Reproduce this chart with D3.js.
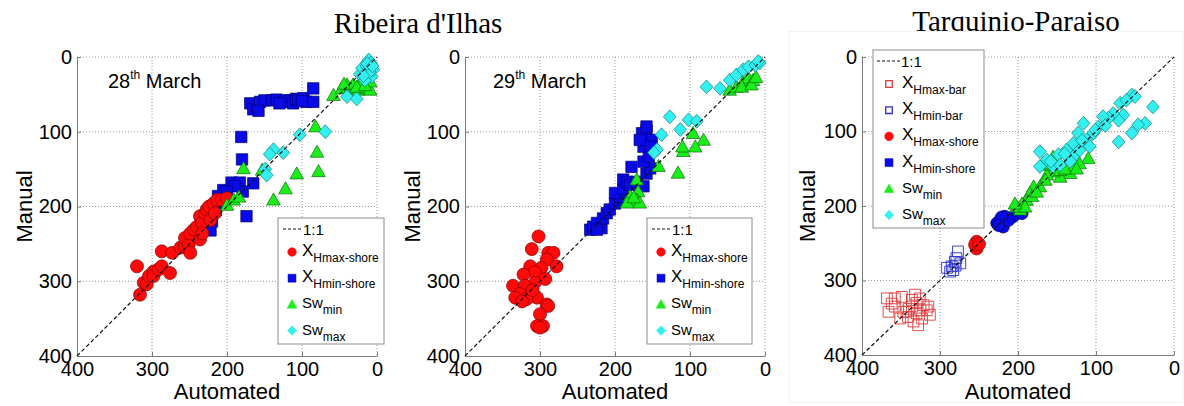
<!DOCTYPE html>
<html><head><meta charset="utf-8">
<script src="https://cdn.jsdelivr.net/npm/d3@7"></script>
<style>body{margin:0;background:#fff} svg{display:block}</style>
</head><body>
<svg id="c" width="1184" height="406"></svg>
<script>
// ---------- DATA ----------
const axisTicks = [0, 100, 200, 300, 400];
const oneToOne = [[400, 400], [0, 0]];
const siteTitles = ["Ribeira d'Ilhas", "Tarquinio-Paraiso"];
const dateLabels = [["28", "th", " March"], ["29", "th", " March"]];

// Panel 1 – 28th March
const p1XHminShore = [[169,62],[165,70],[160,66],[156,60],[150,58],[140,58],[134,57],[125,60],[120,58],[116,58],[112,62],[108,56],[105,57],[98,55],[94,60],[85,42],[85,60],[158,72],[130,62],[100,59],
  [205,178],[194,168],[183,168],[179,180],[165,169],[212,186],[174,213],[181,107],[180,137],[210,195],[215,205],[220,220],[222,232],[190,173],[200,180]];
const p1XHmaxShore = [[320,280],[316,318],[311,302],[307,304],[304,293],[298,287],[298,293],[291,284],[287,280],[287,260],[276,289],[273,262],[262,255],[256,253],[256,242],[251,251],[249,236],[249,262],[244,231],[240,227],[236,244],[236,213],[233,222],[233,236],[229,209],[227,204],[224,200],[222,218],[218,196],[216,209],[213,191],[207,191],[200,189]];
const p1SwMin = [[178,149],[153,151],[138,191],[122,176],[107,156],[80,127],[78,153],[82,93],[200,198],[191,191],[184,187],[58,51],[47,42],[36,42],[25,44],[14,42],[9,44],[40,37],[32,37],[23,35],[44,36],[18,31],[9,33],[27,40],[16,38]];
const p1SwMax = [[103,104],[125,128],[138,124],[143,130],[149,150],[147,158],[69,100],[40,53],[27,56],[23,23],[20,15],[14,12],[9,10],[7,26],[16,31],[12,6],[5,17],[10,20],[18,25],[11,4],[8,8],[13,9],[6,12]];

// Panel 2 – 29th March
const p2XHminShore = [[233,231],[229,227],[224,222],[218,229],[216,216],[224,231],[211,209],[207,204],[200,196],[193,191],[193,187],[200,182],[189,176],[189,164],[184,167],[180,171],[171,167],[178,147],[162,173],[158,156],[153,149],[162,140],[155,133],[162,120],[155,111],[158,98],[160,104],[151,111],[153,120],[164,102],[167,111],[158,93]];
const p2XHmaxShore = [[302,240],[311,257],[289,262],[282,262],[291,271],[278,280],[313,280],[298,282],[307,288],[322,291],[293,297],[307,302],[336,306],[320,306],[327,317],[304,322],[333,322],[318,324],[291,331],[289,333],[300,344],[304,360],[296,360],[300,362],[324,327],[310,312]];
const p2SwMin = [[171,164],[169,180],[180,186],[171,191],[184,195],[167,195],[142,146],[116,155],[109,126],[96,102],[82,111],[93,120],[110,120],[47,44],[38,40],[29,33],[22,28],[16,31],[31,40],[18,37],[175,188],[12,27]];
const p2SwMax = [[127,80],[78,40],[60,42],[138,104],[113,97],[102,84],[91,86],[144,124],[47,31],[38,24],[29,17],[22,13],[13,11],[7,8],[9,6],[148,128]];

// Panel 3 – Tarquinio-Paraiso
const p3XHmaxBar = [[368,324],[362,331],[358,335],[349,322],[366,342],[347,342],[341,349],[336,335],[332,319],[326,324],[321,333],[317,340],[313,346],[328,360],[334,355],[343,342],[330,344],[336,326],[351,351],[323,351],[358,324],[315,335],[330,330],[325,340],[340,338]];
const p3XHminBar = [[285,281],[281,275],[277,261],[283,286],[287,288],[279,270],[274,277],[291,283],[280,280]];
const p3XHmaxShore = [[253,248],[253,257],[255,252],[250,251]];
const p3XHminShore = [[223,219],[227,223],[217,214],[206,214],[195,210],[219,228],[212,219],[221,215],[225,226]];
const p3SwMin = [[110,136],[121,143],[133,156],[146,161],[155,154],[163,158],[155,134],[159,145],[168,143],[172,174],[180,174],[185,183],[189,192],[195,197],[197,205],[202,201],[191,201],[182,187],[176,181],[146,152],[129,147],[204,197],[140,150],[165,165],[125,150]];
const p3SwMax = [[54,51],[50,53],[27,67],[37,89],[54,102],[46,91],[71,114],[65,78],[71,85],[78,76],[84,82],[91,80],[97,94],[103,102],[112,111],[116,89],[123,102],[129,116],[138,125],[148,131],[155,147],[172,127],[172,147],[163,138],[129,134],[121,125],[108,120],[133,140],[146,145],[101,98],[69,62],[61,58],[88,92],[118,112],[140,130],[158,140]];

// ---------- STYLE / SYMBOLS ----------
const FONT = "'Liberation Sans', Arial, sans-serif";
const diamond = {draw(ctx, s){ ctx.moveTo(0,-s*1.08); ctx.lineTo(s,0); ctx.lineTo(0,s*1.08); ctx.lineTo(-s,0); ctx.closePath(); }};
const tri = {draw(ctx, s){ ctx.moveTo(0,-s); ctx.lineTo(s,s*0.78); ctx.lineTo(-s,s*0.78); ctx.closePath(); }};
const sq = {draw(ctx, s){ ctx.rect(-s,-s,2*s,2*s); }};
const circ = {draw(ctx, s){ ctx.moveTo(s,0); ctx.arc(0,0,s,0,2*Math.PI); }};

const ST = {
  redC:  {type: circ, fill: "#ff0a0a", stroke: "#8a0000", sw: 0.7},
  blueS: {type: sq, fill: "#0a0ae6", stroke: "#00006e", sw: 0.7},
  blueC: {type: circ, fill: "#0a0ae6", stroke: "#00006e", sw: 0.7},
  green: {type: tri, fill: "#19ee19", stroke: "#0a6e0a", sw: 0.7},
  cyan:  {type: diamond, fill: "#33f0f0", stroke: "#0a8080", sw: 0.7},
  redO:  {type: sq, fill: "none", stroke: "#e03a3a", sw: 0.9},
  blueO: {type: sq, fill: "none", stroke: "#2a30d0", sw: 0.9}
};
const SIZE = {redC: 6.5, blueS: 5.7, blueC: 6.2, green: 6.8, cyan: 6.4, redO: 5.4, blueO: 5.4};
const LSIZE = {redC: 4.3, blueS: 4, blueC: 4, green: 4.8, cyan: 4.5, redO: 3.3, blueO: 3.3};

const svg = d3.select("#c");

// Titles
svg.append("text").attr("x", 418).attr("y", 33).attr("text-anchor", "middle")
  .style("font-family", "'Liberation Serif', 'Times New Roman', serif").style("font-size", "29px")
  .text(siteTitles[0]);
svg.append("text").attr("x", 1016).attr("y", 31).attr("text-anchor", "middle")
  .style("font-family", "'Liberation Serif', 'Times New Roman', serif").style("font-size", "29px")
  .text(siteTitles[1]);
// panel 3 frame (clips the title descenders like the reference)
svg.append("rect").attr("x", 789).attr("y", 31.5).attr("width", 394).attr("height", 371)
  .attr("fill", "#fff").attr("stroke", "#f2f2f2");

function panel(cfg) {
  const x = d3.scaleLinear().domain([400, 0]).range([cfg.x0, cfg.x1]);
  const y = d3.scaleLinear().domain([0, 400]).range([cfg.y0, cfg.y1]);
  const g = svg.append("g");

  // dotted grid (incl. top / right borders)
  g.selectAll(null).data(axisTicks.filter(t => t < 400)).join("line")
    .attr("x1", d => x(d)).attr("x2", d => x(d)).attr("y1", cfg.y0).attr("y2", cfg.y1)
    .attr("stroke", "#9a9a9a").attr("stroke-dasharray", "1,2");
  g.selectAll(null).data(axisTicks.filter(t => t < 400)).join("line")
    .attr("y1", d => y(d)).attr("y2", d => y(d)).attr("x1", cfg.x0).attr("x2", cfg.x1)
    .attr("stroke", "#9a9a9a").attr("stroke-dasharray", "1,2");

  // axes
  const xa = g.append("g").attr("transform", `translate(0,${cfg.y1})`)
    .call(d3.axisBottom(x).tickValues(axisTicks).tickSizeInner(-4).tickSizeOuter(0).tickPadding(6).tickFormat(d3.format("d")));
  const ya = g.append("g").attr("transform", `translate(${cfg.x0},0)`)
    .call(d3.axisLeft(y).tickValues(axisTicks).tickSizeInner(-4).tickSizeOuter(0).tickPadding(5).tickFormat(d3.format("d")));
  [xa, ya].forEach(a => {
    a.attr("font-family", null).attr("font-size", null);
    a.select(".domain").attr("stroke", "#7a7a7a");
    a.selectAll(".tick line").attr("stroke", "#7a7a7a");
    a.selectAll(".tick text").style("font-family", FONT).style("font-size", "20px").attr("fill", "#000");
  });

  // markers
  cfg.series.forEach(s => {
    const st = ST[s.style];
    g.selectAll(null).data(s.data).join("path")
      .attr("transform", d => `translate(${x(d[0])},${y(d[1])})`)
      .attr("d", d3.symbol().type(st.type).size(SIZE[s.style]))
      .attr("fill", st.fill).attr("stroke", st.stroke).attr("stroke-width", st.sw);
  });

  // 1:1 line
  g.append("path").datum(oneToOne)
    .attr("d", d3.line().x(d => x(d[0])).y(d => y(d[1])))
    .attr("stroke", "#111").attr("stroke-width", 1.2).attr("stroke-dasharray", "4,2.5").attr("fill", "none");

  // axis labels
  g.append("text").attr("x", (cfg.x0 + cfg.x1) / 2).attr("y", 399).attr("text-anchor", "middle")
    .style("font-family", FONT).style("font-size", "22px").text("Automated");
  g.append("text").attr("transform", `translate(${cfg.mx},${(cfg.y0 + cfg.y1) / 2}) rotate(-90)`)
    .attr("text-anchor", "middle").style("font-family", FONT).style("font-size", "22px").text("Manual");

  // date label
  if (cfg.date) {
    const t = g.append("text").attr("x", cfg.date.x).attr("y", 88).style("font-family", FONT).style("font-size", "20px");
    t.append("tspan").text(cfg.date.txt[0]);
    t.append("tspan").attr("dy", -9).style("font-size", "12px").text(cfg.date.txt[1]);
    t.append("tspan").attr("dy", 9).text(cfg.date.txt[2]);
  }

  // legend
  const L = cfg.legend;
  const lg = g.append("g");
  lg.append("rect").attr("x", L.x).attr("y", L.y).attr("width", L.w).attr("height", L.h)
    .attr("fill", "#fff").attr("stroke", "#8c8c8c").attr("stroke-width", 1);
  lg.append("line").attr("x1", L.x + L.lx0).attr("x2", L.x + L.lx1).attr("y1", L.y + 11).attr("y2", L.y + 11)
    .attr("stroke", "#111").attr("stroke-width", 1.2).attr("stroke-dasharray", "3,2");
  lg.append("text").attr("x", L.x + L.lx1 + 1).attr("y", L.y + 16.5)
    .style("font-family", FONT).style("font-size", "15px").text("1:1");
  L.items.forEach((it, i) => {
    const cy = L.y + 34 + i * 26.2;
    const st = ST[it.style];
    lg.append("path").attr("transform", `translate(${L.x + L.mx},${cy})`)
      .attr("d", d3.symbol().type(st.type).size(LSIZE[it.style]))
      .attr("fill", st.fill).attr("stroke", st.fill === "none" ? st.stroke : st.fill).attr("stroke-width", st.fill === "none" ? 1.3 : 0.5);
    const t = lg.append("text").attr("x", L.x + L.tx).attr("y", cy + 4).style("font-family", FONT);
    t.append("tspan").style("font-size", it.main === "X" ? "17px" : "15px").text(it.main);
    t.append("tspan").attr("dy", 6).style("font-size", "12px").text(it.sub);
  });
}

const leg4 = [
  {style: "redC", main: "X", sub: "Hmax-shore"},
  {style: "blueS", main: "X", sub: "Hmin-shore"},
  {style: "green", main: "Sw", sub: "min"},
  {style: "cyan", main: "Sw", sub: "max"}
];

panel({x0: 77, x1: 377, y0: 57, y1: 356, mx: 32,
  date: {x: 108, txt: dateLabels[0]},
  series: [{data: p1XHminShore, style: "blueS"}, {data: p1XHmaxShore, style: "redC"}, {data: p1SwMin, style: "green"}, {data: p1SwMax, style: "cyan"}],
  legend: {x: 278, y: 218, w: 106, h: 126, lx0: 5, lx1: 24, mx: 14, tx: 24, items: leg4}});

panel({x0: 465, x1: 765, y0: 57, y1: 356, mx: 420,
  date: {x: 493, txt: dateLabels[1]},
  series: [{data: p2XHminShore, style: "blueS"}, {data: p2XHmaxShore, style: "redC"}, {data: p2SwMin, style: "green"}, {data: p2SwMax, style: "cyan"}],
  legend: {x: 647, y: 218, w: 105, h: 126, lx0: 5, lx1: 24, mx: 14, tx: 24, items: leg4}});

panel({x0: 862, x1: 1174, y0: 57, y1: 355, mx: 815,
  series: [{data: p3XHmaxBar, style: "redO"}, {data: p3XHminBar, style: "blueO"}, {data: p3XHminShore, style: "blueC"}, {data: p3XHmaxShore, style: "redC"}, {data: p3SwMin, style: "green"}, {data: p3SwMax, style: "cyan"}],
  legend: {x: 873, y: 50, w: 111, h: 178, lx0: 4, lx1: 27, mx: 16, tx: 29, items: [
    {style: "redO", main: "X", sub: "Hmax-bar"},
    {style: "blueO", main: "X", sub: "Hmin-bar"},
    {style: "redC", main: "X", sub: "Hmax-shore"},
    {style: "blueS", main: "X", sub: "Hmin-shore"},
    {style: "green", main: "Sw", sub: "min"},
    {style: "cyan", main: "Sw", sub: "max"}
  ]}});
</script>
</body></html>
